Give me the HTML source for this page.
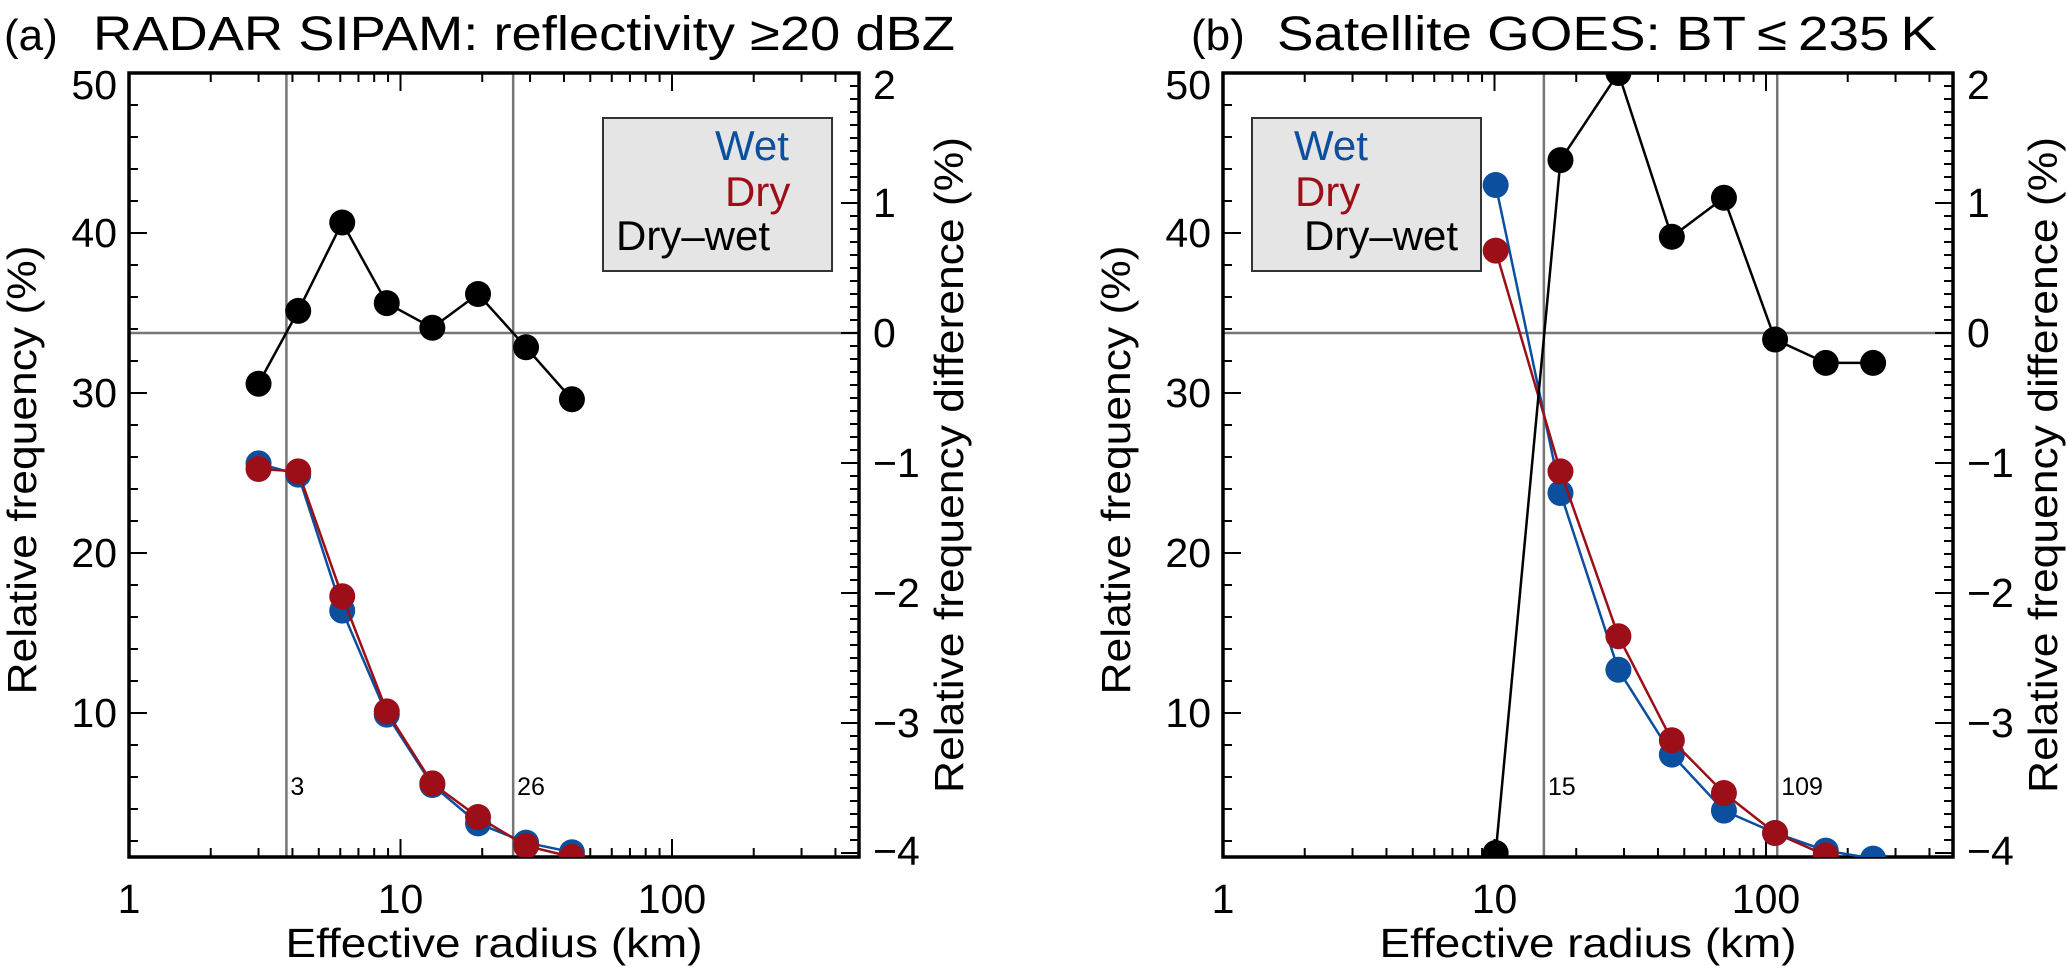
<!DOCTYPE html>
<html><head><meta charset="utf-8"><style>
html,body{margin:0;padding:0;background:#fff;}
svg{display:block;font-family:"Liberation Sans",Arial,sans-serif;}
</style></head><body>
<svg id="fig" width="2067" height="971" viewBox="0 0 2067 971">
<defs>
<clipPath id="clipA"><rect x="129" y="73" width="730" height="784"/></clipPath>
<clipPath id="clipB"><rect x="1223" y="73" width="732" height="784"/></clipPath>
</defs>
</svg>
<script>
// ---------- data ----------
const radiusA = [3.0, 4.2, 6.1, 8.9, 13.1, 19.3, 29, 42.8];
const wetA = [25.6, 24.9, 16.4, 9.9, 5.5, 3.1, 1.9, 1.3];
const dryA = [25.25, 25.1, 17.3, 10.1, 5.6, 3.5, 1.7, 1.0];
const diffA = [-0.39, 0.17, 0.85, 0.23, 0.04, 0.30, -0.11, -0.51];
const splitA = [3.8, 26];
const splitLabelsA = ["3", "26"];

const radiusB = [10.1, 17.5, 28.6, 45, 70, 108, 166, 248];
const wetB = [43.0, 23.75, 12.7, 7.4, 3.9, 2.5, 1.4, 0.9];
const dryB = [38.9, 25.1, 14.8, 8.3, 5.0, 2.5, 1.1];
const diffB = [-4.0, 1.33, 2.0, 0.74, 1.04, -0.05, -0.23, -0.23];
const splitB = [15.2, 110];
const splitLabelsB = ["15", "109"];

const leftTicks = [10, 20, 30, 40, 50];
const rightTicks = [2, 1, 0, -1, -2, -3, -4];
const xTicks = [1, 10, 100];

// ---------- helpers ----------
const NS = "http://www.w3.org/2000/svg";
const svg = document.getElementById("fig");
function mk(tag, attrs, parent) {
  const e = document.createElementNS(NS, tag);
  for (const k in attrs) e.setAttribute(k, attrs[k]);
  (parent || svg).appendChild(e);
  return e;
}
const TOP = 73, BOT = 857, W = 730, DEC = 271.5;
const BLUE = "#0b4f9e", RED = "#9c0f18";

function drawPanel(ox, clipId, radius, wet, dry, diff, split, splitLabels, title, tag, titleX, titleLen, tagX, legend) {
  const g = mk("g", {});
  
  
  const xs = v => ox + DEC * Math.log10(v);
  const yl = v => TOP + (50 - v) * 16;
  const yr = v => 333 - v * 130;
  const R = ox + W;

  // title
  const tt = mk("text", {x: tagX, y: 50, "font-size": 44}, g);
  tt.textContent = "(" + tag + ")";
  
  
  const ti = mk("text", {x: titleX, y: 50, "font-size": 48, textLength: titleLen, lengthAdjust: "spacingAndGlyphs"}, g);
  ti.textContent = title;
  
  

  // grid / reference lines
  const grid = mk("g", {stroke: "#767676", "stroke-width": 2.5}, g);
  
  
  mk("line", {x1: ox, x2: R, y1: yr(0), y2: yr(0)}, grid);
  split.forEach((s, i) => {
    const l = mk("line", {x1: xs(s), x2: xs(s), y1: TOP, y2: BOT}, grid);
    
    
    const t = mk("text", {x: xs(s) + 4, y: 795, "font-size": 25, fill: "#000", stroke: "none"}, g);
    t.textContent = splitLabels[i];
    
    
  });

  // axes ticks
  const ax = mk("g", {stroke: "#000", "stroke-width": 2}, g);
  
  
  for (let v = 2; v <= 50; v += 2) {
    const len = v % 10 === 0 ? 18 : 9;
    mk("line", {x1: ox, x2: ox + len, y1: yl(v), y2: yl(v)}, ax);
  }
  for (let k = -40; k <= 20; k++) {
    const v = k / 10;
    const len = k % 10 === 0 ? 18 : 9;
    mk("line", {x1: R, x2: R - len, y1: yr(v), y2: yr(v)}, ax);
  }
  [1, 10, 100].forEach(d => {
    for (let m = 1; m <= 9; m++) {
      const v = d * m;
      const x = xs(v);
      if (x > R + 0.5) continue;
      const len = m === 1 ? 18 : 9;
      mk("line", {x1: x, x2: x, y1: BOT, y2: BOT - len}, ax);
      mk("line", {x1: x, x2: x, y1: TOP, y2: TOP + len}, ax);
    }
  });
  mk("rect", {x: ox, y: TOP, width: W, height: BOT - TOP, fill: "none", "stroke-width": 3.5}, ax);

  // tick labels
  leftTicks.forEach(v => {
    const t = mk("text", {x: ox - 12, y: yl(v) + (v === 50 ? 26 : 14), "font-size": 41, "text-anchor": "end"}, g);
    t.textContent = v;
    
    
  });
  rightTicks.forEach(v => {
    const dy = v === 2 ? 26 : (v === -4 ? 12 : 14);
    const t = mk("text", {x: R + 14, y: yr(v) + dy, "font-size": 41}, g);
    t.textContent = v < 0 ? "\u2212" + (-v) : String(v);
    
    
  });
  xTicks.forEach(v => {
    const t = mk("text", {x: xs(v), y: 913, "font-size": 41, "text-anchor": "middle"}, g);
    t.textContent = v;
    
    
  });
  const xt = mk("text", {x: ox + 365, y: 957, "font-size": 41, "text-anchor": "middle", textLength: 417, lengthAdjust: "spacingAndGlyphs"}, g);
  xt.textContent = "Effective  radius  (km)";
  
  
  const ylt = mk("text", {x: 0, y: 0, "font-size": 41, "text-anchor": "middle", textLength: 449, lengthAdjust: "spacingAndGlyphs", transform: `translate(${ox - 93},470) rotate(-90)`}, g);
  ylt.textContent = "Relative  frequency (%)";
  
  
  const yrt = mk("text", {x: 0, y: 0, "font-size": 41, "text-anchor": "middle", textLength: 656, lengthAdjust: "spacingAndGlyphs", transform: `translate(${R + 104},465) rotate(-90)`}, g);
  yrt.textContent = "Relative  frequency difference (%)";
  
  

  // legend
  const lg = mk("g", {}, g);
  
  
  mk("rect", {x: legend.x, y: 118, width: 229, height: 153, fill: "#e5e5e5", stroke: "#333", "stroke-width": 2}, lg);
  [["Wet", BLUE, legend.wetX, 160], ["Dry", RED, legend.dryX, 206], ["Dry\u2013wet", "#000", legend.dwX, 250]].forEach(e => {
    const t = mk("text", {x: e[2], y: e[3], "font-size": 42, fill: e[1]}, lg);
    t.textContent = e[0];
    
    
  });

  // series
  const sg = mk("g", {"clip-path": `url(#${clipId})`}, g);
  function series(xv, yv, yf, col, name) {
    const s = mk("g", {}, sg);
    
    
    const pts = yv.map((v, i) => xs(xv[i]).toFixed(1) + "," + yf(v).toFixed(1)).join(" ");
    mk("polyline", {points: pts, fill: "none", stroke: col, "stroke-width": 2.5}, s);
    yv.forEach((v, i) => {
      const c = mk("circle", {cx: xs(xv[i]), cy: yf(v), r: 13, fill: col}, s);
      
      
    });
  }
  series(radius, wet, yl, BLUE, "wet-series");
  series(radius, dry, yl, RED, "dry-series");
  series(radius, diff, yr, "#000", "dry-minus-wet-series");
}

drawPanel(129, "clipA", radiusA, wetA, dryA, diffA, splitA, splitLabelsA,
  "RADAR SIPAM: reflectivity \u226520 dBZ", "a", 93, 862, 4,
  {x: 603, wetX: 715, dryX: 725, dwX: 616});
drawPanel(1223, "clipB", radiusB, wetB, dryB, diffB, splitB, splitLabelsB,
  "Satellite GOES: BT\u2009\u2264\u2009235\u2009K", "b", 1277, 660, 1191,
  {x: 1252, wetX: 1294, dryX: 1295, dwX: 1304});
</script>
</body></html>
